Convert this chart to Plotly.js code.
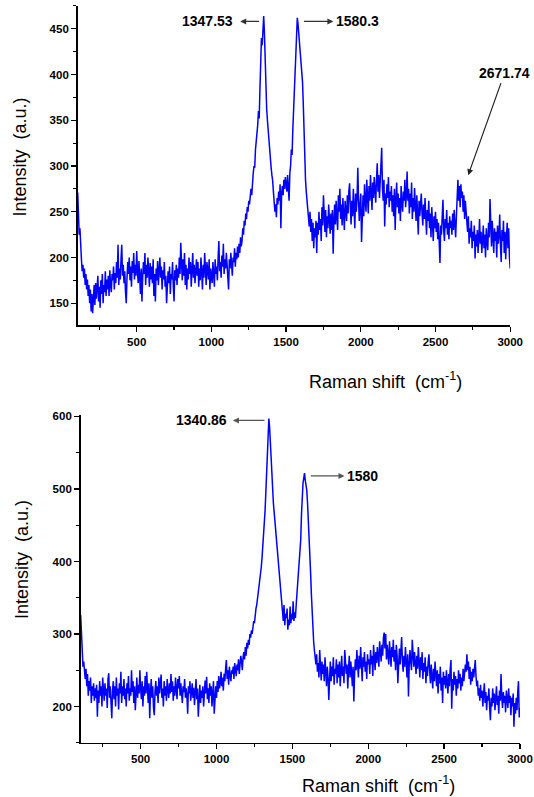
<!DOCTYPE html>
<html>
<head>
<meta charset="utf-8">
<script src="https://cdn.plot.ly/plotly-3.0.1.min.js"></script>
<style>html,body{margin:0;padding:0;background:#fff;}#chart{width:534px;height:797px;}</style>
</head>
<body>
<div id="chart"></div>
<script>
// Raman spectra, sampled every 5 cm-1 from 105 to 3000 cm-1
const shiftStart = 105;
const shiftStep = 5;

// Upper spectrum intensities (a.u.), one row per 100 cm-1
const intensityTop = [
  271, 245, 225, 232, 205, 198, 185, 192, 178, 188, 170, 182, 165, 176, 158, 170, 150, 165, 141, 160,
  139, 158, 170, 148, 172, 155, 165, 180, 152, 168, 145, 175, 160, 182, 150, 170, 162, 185, 158, 176,
  165, 180, 158, 186, 170, 162, 182, 175, 190, 165, 183, 172, 195, 178, 214, 170, 188, 176, 198, 214,
  180, 192, 172, 185, 162, 150, 178, 195, 182, 200, 175, 190, 168, 196, 183, 205, 176, 192, 180, 207,
  185, 172, 196, 180, 160, 188, 152, 178, 195, 182, 205, 170, 192, 178, 200, 185, 168, 194, 176, 190,
  172, 198, 158, 182, 152, 188, 175, 196, 170, 185, 200, 178, 190, 165, 186, 176, 195, 168, 180, 150,
  165, 185, 172, 190, 160, 182, 176, 195, 168, 152, 186, 175, 192, 170, 188, 178, 200, 182, 216, 190,
  175, 198, 180, 205, 170, 192, 165, 188, 176, 200, 182, 195, 168, 186, 205, 178, 192, 172, 185, 198,
  180, 195, 168, 188, 175, 200, 184, 165, 192, 178, 205, 186, 170, 195, 182, 176, 198, 165, 188, 180,
  172, 195, 185, 168, 198, 182, 190, 175, 200, 218, 185, 195, 178, 202, 190, 215, 182, 198, 188, 205,
  192, 182, 165, 198, 188, 205, 192, 180, 200, 195, 210, 190, 205, 198, 212, 200, 215, 205, 222, 212,
  218, 232, 225, 240, 235, 248, 242, 255, 250, 262, 258, 270, 275, 268, 285, 292, 300, 298, 318, 325,
  335, 345, 360, 352, 385, 410, 440, 432, 455, 464, 445, 410, 385, 362, 350, 338, 326, 318, 305, 298,
  290, 284, 272, 262, 250, 258, 244, 265, 258, 272, 262, 280, 232, 270, 278, 268, 285, 275, 288, 280,
  272, 290, 276, 262, 292, 300, 318, 312, 340, 362, 385, 412, 430, 448, 462, 455, 445, 438, 430, 420,
  408, 392, 368, 340, 298, 285, 272, 262, 252, 238, 234, 250, 228, 242, 218, 238, 210, 232, 222, 240,
  205, 238, 225, 250, 230, 242, 218, 255, 235, 268, 240, 228, 252, 222, 245, 232, 258, 238, 226, 248,
  230, 252, 204, 240, 258, 236, 262, 245, 230, 268, 250, 275, 242, 258, 235, 265, 248, 230, 262, 252,
  240, 268, 248, 272, 281, 255, 236, 262, 245, 275, 258, 232, 270, 250, 265, 298, 262, 240, 258, 270,
  217, 255, 268, 245, 280, 262, 250, 285, 265, 248, 278, 262, 290, 270, 252, 282, 265, 288, 275, 260,
  285, 303, 272, 290, 265, 282, 298, 320, 275, 262, 285, 234, 270, 258, 280, 265, 288, 255, 272, 262,
  278, 250, 268, 245, 275, 230, 262, 282, 255, 270, 248, 265, 240, 278, 258, 250, 272, 262, 285, 255,
  268, 294, 262, 275, 248, 270, 255, 282, 242, 265, 250, 276, 258, 240, 268, 252, 225, 262, 245, 258,
  270, 248, 235, 258, 242, 265, 238, 225, 252, 240, 262, 232, 248, 222, 255, 238, 218, 245, 232, 250,
  228, 242, 220, 238, 215, 194, 235, 225, 245, 263, 230, 218, 242, 232, 252, 225, 238, 220, 245, 232,
  240, 225, 248, 230, 252, 235, 222, 245, 268, 285, 262, 278, 255, 280, 265, 272, 250, 268, 242, 262,
  250, 238, 228, 245, 215, 232, 222, 240, 210, 228, 218, 235, 199, 225, 212, 230, 205, 220, 242, 215,
  228, 205, 222, 235, 210, 225, 200, 232, 218, 208, 238, 222, 264, 230, 212, 240, 220, 205, 232, 218,
  228, 200, 235, 215, 225, 247, 212, 195, 230, 218, 240, 205, 228, 198, 222, 238, 210, 232, 200, 188
];

// Lower spectrum intensities (a.u.), one row per 100 cm-1
const intensityBottom = [
  326, 300, 268, 255, 262, 250, 238, 252, 228, 245, 215, 235, 222, 240, 205, 228, 215, 232, 208, 225,
  212, 230, 186, 222, 205, 235, 215, 228, 200, 240, 218, 208, 232, 215, 225, 198, 238, 246, 212, 228,
  205, 184, 222, 235, 210, 228, 200, 240, 215, 225, 196, 232, 218, 248, 205, 228, 215, 238, 210, 225,
  200, 232, 218, 242, 208, 225, 215, 250, 220, 235, 205, 228, 195, 222, 240, 212, 230, 218, 250, 225,
  210, 235, 200, 228, 215, 242, 218, 248, 225, 205, 232, 184, 220, 238, 212, 228, 198, 188, 222, 235,
  215, 228, 205, 240, 218, 232, 244, 212, 225, 200, 235, 215, 228, 208, 238, 222, 212, 232, 218, 245,
  220, 235, 208, 228, 215, 240, 222, 210, 238, 225, 242, 215, 232, 218, 205, 228, 220, 238, 212, 225,
  215, 190, 228, 218, 235, 208, 222, 232, 212, 226, 202, 220, 238, 210, 225, 186, 218, 230, 205, 222,
  212, 228, 200, 222, 236, 218, 241, 210, 225, 205, 232, 215, 228, 200, 222, 235, 190, 218, 228, 212,
  235, 220, 242, 225, 232, 248, 228, 240, 222, 245, 235, 252, 264, 238, 250, 230, 255, 242, 235, 250,
  245, 255, 238, 260, 248, 242, 258, 250, 265, 245, 258, 270, 262, 250, 268, 275, 265, 282, 270, 288,
  280, 292, 285, 300, 295, 305, 300, 312, 318, 315, 328, 335, 340, 348, 355, 362, 372, 380, 392, 405,
  420, 438, 455, 470, 495, 520, 555, 590, 597, 585, 560, 535, 512, 495, 480, 468, 455, 442, 430, 415,
  402, 390, 375, 362, 350, 342, 330, 318, 340, 312, 328, 322, 335, 306, 320, 312, 338, 315, 328, 320,
  345, 318, 330, 322, 340, 355, 368, 375, 392, 405, 430, 465, 495, 508, 515, 522, 512, 505, 498, 480,
  460, 440, 410, 385, 356, 330, 305, 290, 278, 268, 258, 272, 248, 260, 240, 278, 252, 236, 262, 245,
  258, 235, 268, 245, 228, 255, 240, 209, 248, 262, 235, 255, 242, 268, 230, 252, 245, 265, 232, 258,
  240, 262, 228, 250, 270, 242, 255, 232, 278, 262, 245, 258, 225, 252, 270, 240, 262, 248, 228, 255,
  207, 245, 265, 250, 278, 258, 240, 270, 252, 282, 262, 235, 268, 255, 275, 248, 262, 238, 272, 258,
  265, 245, 278, 258, 270, 242, 285, 262, 250, 275, 260, 282, 268, 255, 290, 272, 262, 285, 270, 295,
  302, 280, 300, 265, 285, 272, 258, 290, 275, 255, 282, 268, 292, 262, 278, 250, 285, 270, 232, 268,
  280, 258, 275, 296, 262, 248, 270, 255, 282, 265, 240, 272, 214, 258, 278, 262, 250, 292, 268, 255,
  275, 260, 245, 270, 252, 282, 262, 240, 268, 250, 275, 238, 260, 248, 268, 232, 255, 242, 262, 272,
  248, 232, 258, 240, 225, 252, 235, 262, 242, 228, 250, 218, 245, 232, 255, 222, 240, 205, 248, 230,
  242, 225, 250, 235, 218, 245, 228, 252, 264, 197, 238, 222, 248, 230, 242, 215, 238, 225, 250, 232,
  245, 222, 240, 228, 252, 235, 245, 258, 248, 272, 250, 262, 238, 255, 230, 248, 235, 252, 240, 258,
  264, 242, 228, 236, 215, 225, 208, 230, 212, 222, 200, 218, 232, 205, 220, 195, 215, 208, 225, 198,
  181, 212, 200, 225, 205, 218, 195, 212, 228, 202, 215, 190, 222, 208, 245, 212, 198, 220, 205, 215,
  192, 222, 208, 198, 225, 205, 215, 188, 212, 200, 218, 172, 205, 190, 212, 195, 220, 235, 185, 198
];

// Peak labels
const peakLabelsTop = ['1347.53', '1580.3', '2671.74'];
const peakLabelsBottom = ['1340.86', '1580'];

const xTitle = 'Raman shift  (cm<sup>-1</sup>)';
const yTitle = 'Intensity  (a.u.)';

const FONT = '"Liberation Sans", Arial, Helvetica, sans-serif';

const traces = [
  { type: 'scatter', mode: 'lines', x0: shiftStart, dx: shiftStep, y: intensityTop,
    xaxis: 'x', yaxis: 'y', line: { color: '#0000FF', width: 1.5 }, hoverinfo: 'x+y' },
  { type: 'scatter', mode: 'lines', x0: shiftStart, dx: shiftStep, y: intensityBottom,
    xaxis: 'x2', yaxis: 'y2', line: { color: '#0000FF', width: 1.5 }, hoverinfo: 'x+y' }
];

function axisBase(extra) {
  return Object.assign({
    showgrid: false, zeroline: false, showline: true,
    linecolor: '#000', linewidth: 1.6,
    ticks: 'outside', ticklen: 5, tickwidth: 1.3, tickcolor: '#000',
    tickfont: { family: FONT, size: 11.5, color: '#000', weight: 'bold' },
    fixedrange: true
  }, extra);
}
function minorTicks(step) {
  return { dtick: step, ticks: 'outside', ticklen: 3, tickwidth: 1.2, tickcolor: '#000' };
}

const labelFont = { family: FONT, size: 14, color: '#000', weight: 'bold' };
const titleFont = { family: FONT, size: 18, color: '#000' };

function peakArrow(xref, yref, label, textX, textY, tailX, tailY, gap, color) {
  return {
    xref: xref, yref: yref, axref: xref, ayref: yref,
    x: tailX, y: tailY, ax: textX, ay: textY,
    text: label, font: labelFont, showarrow: true,
    arrowside: 'start', arrowhead: 2, startarrowhead: 2, startarrowsize: 1,
    arrowwidth: 1.2, arrowcolor: color, startstandoff: gap, standoff: 0
  };
}

const layout = {
  width: 534, height: 797,
  margin: { l: 0, r: 0, t: 0, b: 0 },
  paper_bgcolor: '#fff', plot_bgcolor: '#fff',
  showlegend: false,
  xaxis: axisBase({ domain: [0.1455, 0.9554], anchor: 'y', range: [105, 3000],
    tick0: 0, dtick: 500, minor: minorTicks(250) }),
  yaxis: axisBase({ domain: [0.5920, 0.9926], anchor: 'x', range: [126, 475],
    tick0: 0, dtick: 50, minor: minorTicks(25) }),
  xaxis2: axisBase({ domain: [0.1511, 0.9738], anchor: 'y2', range: [105, 3000],
    tick0: 0, dtick: 500, minor: minorTicks(250) }),
  yaxis2: axisBase({ domain: [0.0680, 0.4793], anchor: 'x2', range: [150, 602],
    tick0: 0, dtick: 100, minor: minorTicks(50) }),
  annotations: [
    // axis titles
    { xref: 'paper', yref: 'paper', x: 0.0382, y: 0.8028, text: yTitle, textangle: -90,
      showarrow: false, font: titleFont, xanchor: 'center', yanchor: 'middle' },
    { xref: 'paper', yref: 'paper', x: 0.7217, y: 0.5232, text: xTitle,
      showarrow: false, font: titleFont, xanchor: 'center', yanchor: 'middle' },
    { xref: 'paper', yref: 'paper', x: 0.0412, y: 0.2974, text: yTitle, textangle: -90,
      showarrow: false, font: titleFont, xanchor: 'center', yanchor: 'middle' },
    { xref: 'paper', yref: 'paper', x: 0.7094, y: 0.0151, text: xTitle,
      showarrow: false, font: titleFont, xanchor: 'center', yanchor: 'middle' },

    // top peak labels with arrows
    peakArrow('x', 'y', peakLabelsTop[0], 972, 458, 1319, 458, 6, '#333'),
    peakArrow('x', 'y', peakLabelsTop[1], 1977, 458, 1620, 458, 1, '#333'),
    { xref: 'x', yref: 'y', axref: 'x', ayref: 'y', x: 2719, y: 290, ax: 2963, ay: 402,
      text: peakLabelsTop[2], font: labelFont, showarrow: true, arrowhead: 2, arrowsize: 1,
      arrowwidth: 1.2, arrowcolor: '#222', standoff: 0, startstandoff: 1 },

    // bottom peak labels with arrows
    peakArrow('x2', 'y2', peakLabelsBottom[0], 904, 594.5, 1316, 594.5, 4, '#555'),
    peakArrow('x2', 'y2', peakLabelsBottom[1], 1962, 518, 1621, 518, 1, '#555')
  ]
};

Plotly.newPlot('chart', traces, layout, { displayModeBar: false, staticPlot: true });
</script>
</body>
</html>
